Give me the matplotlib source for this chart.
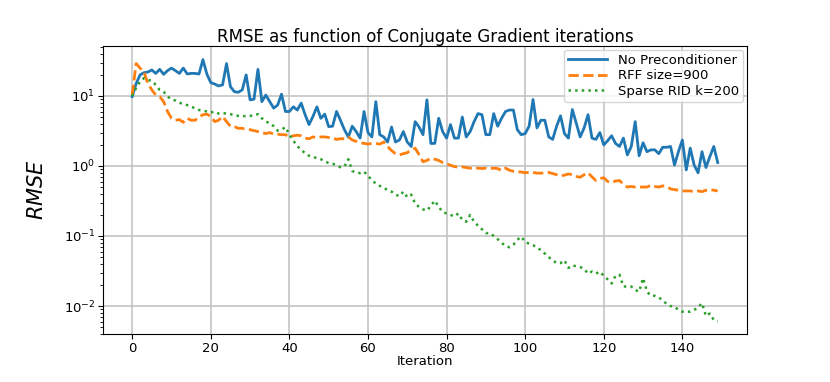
import numpy as np
import matplotlib
matplotlib.use('Agg')
import matplotlib.pyplot as plt

# RMSE per CG iteration
iterations = np.arange(150)

no_precond = [
    9.8, 15, 20, 21.5, 22, 23.5, 21, 24, 20.4, 23,
    25, 23, 21, 25, 20.6, 21, 21, 20.6, 33, 20.6,
    15.5, 14.8, 13.9, 14.4, 29, 13.6, 11.5, 11.3, 12.2, 20,
    8.8, 9.0, 24, 8.3, 10.3, 8.3, 6.7, 7.4, 10.6, 6.0,
    6.0, 7.0, 6.3, 7.9, 5.4, 3.9, 5.1, 7.0, 4.8, 5.5,
    3.65, 3.7, 6.0, 4.5, 3.3, 2.6, 3.7, 3.1, 2.5, 6.0,
    3.0, 2.6, 8.3, 2.8, 2.6, 2.2, 3.6, 2.2, 2.35, 3.1,
    2.2, 1.9, 4.3, 3.6, 2.8, 8.8, 2.1, 2.1, 4.8, 3.1,
    2.5, 3.9, 2.5, 2.5, 5.0, 2.6, 3.1, 4.3, 5.6, 5.4,
    2.8, 2.8, 5.6, 3.7, 4.8, 6.0, 6.3, 6.3, 3.3, 2.8,
    2.9, 3.7, 8.9, 3.5, 4.5, 4.5, 2.6, 2.4, 3.7, 5.2,
    2.9, 2.5, 6.4, 4.1, 2.6, 3.5, 5.4, 2.5, 2.4, 3.0,
    2.0, 2.3, 2.7, 2.1, 1.9, 2.5, 1.44, 1.9, 4.3, 1.4,
    2.15, 1.6, 1.7, 1.7, 1.5, 1.85, 1.85, 1.9, 1.03, 1.6,
    2.35, 0.88, 1.8, 1.03, 0.8, 1.6, 0.95, 1.36, 1.9, 1.12,
]

rff_900 = [
    10.3, 29, 25, 22, 15, 12.2, 10.3, 9.8, 8.3, 6.0,
    4.8, 4.5, 4.6, 4.2, 4.8, 4.5, 4.5, 5.0, 5.4, 5.5,
    5.1, 4.3, 4.5, 5.1, 4.3, 3.7, 3.65, 3.45, 3.45, 3.35,
    3.3, 3.2, 3.1, 3.0, 2.9, 3.0, 2.85, 2.85, 2.8, 2.8,
    2.6, 2.7, 2.75, 2.7, 2.5, 2.45, 2.6, 2.55, 2.6, 2.6,
    2.55, 2.5, 2.4, 2.45, 2.45, 2.6, 2.35, 2.25, 2.15, 2.1,
    2.06, 2.1, 2.1, 2.05, 2.2, 1.9, 1.66, 1.5, 1.44, 1.5,
    1.55, 1.7, 1.8, 1.45, 1.15, 1.2, 1.29, 1.25, 1.2, 1.12,
    1.07, 1.02, 0.98, 0.96, 0.97, 0.95, 0.93, 0.94, 0.93, 0.92,
    0.93, 0.92, 0.93, 0.92, 0.86, 0.93, 0.87, 0.84, 0.83, 0.82,
    0.80, 0.81, 0.81, 0.79, 0.79, 0.80, 0.81, 0.78, 0.75, 0.72,
    0.74, 0.77, 0.75, 0.71, 0.69, 0.75, 0.80, 0.70, 0.62, 0.66,
    0.68, 0.60, 0.58, 0.61, 0.62, 0.55, 0.50, 0.51, 0.50, 0.50,
    0.50, 0.50, 0.53, 0.51, 0.50, 0.52, 0.51, 0.47, 0.46, 0.45,
    0.44, 0.44, 0.44, 0.43, 0.44, 0.43, 0.45, 0.46, 0.45, 0.44,
]

sparse_rid = [
    10, 13, 16, 18, 17, 16.5, 14.4, 12.2, 11.5, 9.8,
    8.9, 8.6, 8.0, 7.7, 7.4, 7.0, 6.7, 6.3, 6.2, 6.0,
    5.8, 6.0, 5.6, 5.7, 5.6, 5.5, 5.3, 5.2, 5.1, 5.2,
    5.2, 5.3, 5.5, 4.8, 4.3, 4.1, 3.7, 3.2, 3.3, 3.6,
    2.8, 2.3, 1.93, 1.7, 1.52, 1.40, 1.34, 1.30, 1.25, 1.17,
    1.10, 1.08, 1.02, 0.96, 0.98, 1.25, 0.85, 0.80, 0.79, 0.83,
    0.72, 0.63, 0.56, 0.52, 0.48, 0.46, 0.43, 0.39, 0.37, 0.43,
    0.36, 0.39, 0.29, 0.26, 0.24, 0.23, 0.27, 0.32, 0.26, 0.22,
    0.21, 0.20, 0.19, 0.21, 0.17, 0.16, 0.20, 0.16, 0.14, 0.125,
    0.11, 0.11, 0.10, 0.09, 0.08, 0.072, 0.069, 0.075, 0.088, 0.098,
    0.082, 0.078, 0.074, 0.068, 0.063, 0.056, 0.050, 0.045, 0.041, 0.041,
    0.045, 0.035, 0.038, 0.037, 0.036, 0.034, 0.029, 0.031, 0.029, 0.031,
    0.027, 0.024, 0.021, 0.027, 0.028, 0.019, 0.019, 0.019, 0.017, 0.016,
    0.025, 0.016, 0.014, 0.014, 0.0133, 0.012, 0.0107, 0.010, 0.0098, 0.0088,
    0.0083, 0.0083, 0.0083, 0.0088, 0.0095, 0.011, 0.0072, 0.0078, 0.0063, 0.0061,
]

fig = plt.figure(figsize=(8.3, 3.82), dpi=100)
ax = fig.add_axes([0.124, 0.126, 0.776, 0.754])

ax.plot(iterations, no_precond, '-', color='#1f77b4', lw=2.0, label='No Preconditioner')
ax.plot(iterations, rff_900, '--', color='#ff7f0e', lw=2.0, label='RFF size=900')
ax.plot(iterations, sparse_rid, ':', color='#2ca02c', lw=1.8, label='Sparse RID k=200')

ax.set_yscale('log')
ax.set_ylim(0.004, 52)
ax.set_xlim(-7.45, 156.45)
ax.grid(True, which='major', color='#c0c0c0', lw=1.1)

ax.set_title('RMSE as function of Conjugate Gradient iterations', fontsize=12, pad=2)
ax.set_xlabel('Iteration', fontsize=9.5, labelpad=0)
ax.set_ylabel('$RMSE$', fontsize=15, labelpad=12)
ax.tick_params(labelsize=9.5, pad=2)
ax.legend(loc='upper right', fontsize=9.5, borderaxespad=0.3, handlelength=3,
          labelspacing=0.2, borderpad=0.3)

fig.savefig('out.png', dpi=100)
